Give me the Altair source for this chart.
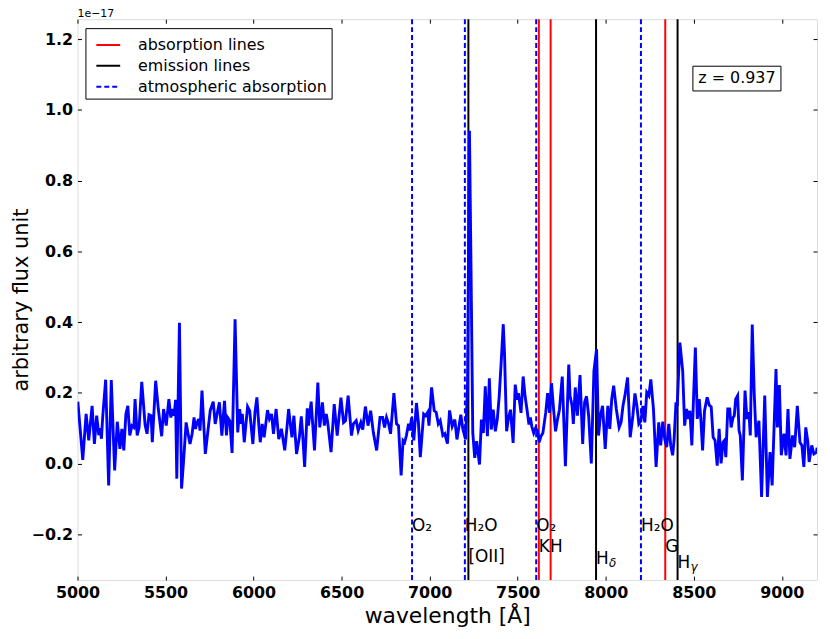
import altair as alt
import pandas as pd

# ---- spectrum (flux in units of 1e-17) ----
wavelength = [
    5002, 5030, 5049, 5064, 5083, 5096, 5109, 5121, 5128, 5136, 5143, 5160, 5177, 5192, 5211,
    5226, 5241, 5252, 5263, 5275, 5286, 5297, 5309, 5320, 5327, 5339, 5350, 5365, 5384, 5395,
    5406, 5418, 5425, 5444, 5459, 5478, 5489, 5504, 5519, 5530, 5542, 5549, 5557, 5564, 5579,
    5591, 5602, 5617, 5628, 5639, 5651, 5662, 5670, 5677, 5688, 5696, 5707, 5726, 5741, 5754,
    5771, 5782, 5806, 5820, 5835, 5846, 5853, 5865, 5878, 5895, 5910, 5921, 5929, 5936, 5947,
    5966, 5978, 5996, 6008, 6019, 6030, 6038, 6049, 6060, 6079, 6090, 6102, 6113, 6128, 6143,
    6158, 6177, 6188, 6199, 6211, 6218, 6229, 6244, 6260, 6271, 6278, 6290, 6305, 6312, 6327,
    6346, 6365, 6376, 6391, 6402, 6413, 6421, 6440, 6458, 6475, 6496, 6511, 6522, 6537, 6556,
    6567, 6583, 6594, 6609, 6620, 6635, 6650, 6665, 6680, 6699, 6718, 6733, 6744, 6755, 6767,
    6778, 6797, 6812, 6823, 6838, 6849, 6858, 6868, 6880, 6887, 6898, 6910, 6925, 6936, 6947,
    6966, 6977, 6989, 6996, 7011, 7026, 7037, 7049, 7060, 7075, 7086, 7101, 7113, 7128, 7143,
    7155, 7177, 7189, 7204, 7215, 7226, 7234, 7245, 7256, 7267, 7283, 7294, 7305, 7316, 7328,
    7339, 7350, 7361, 7373, 7384, 7395, 7407, 7418, 7425, 7437, 7448, 7459, 7474, 7486, 7497,
    7504, 7519, 7531, 7542, 7553, 7564, 7572, 7580, 7591, 7602, 7613, 7622, 7632, 7643, 7659,
    7670, 7681, 7692, 7704, 7715, 7726, 7737, 7753, 7771, 7790, 7797, 7809, 7816, 7827, 7839,
    7854, 7869, 7880, 7891, 7903, 7918, 7933, 7948, 7959, 7970, 7982, 7997, 8012, 8023, 8034,
    8045, 8060, 8076, 8087, 8098, 8109, 8124, 8139, 8154, 8166, 8177, 8188, 8200, 8211, 8222,
    8233, 8245, 8256, 8271, 8286, 8301, 8312, 8324, 8335, 8346, 8358, 8369, 8380, 8388, 8399,
    8406, 8421, 8437, 8448, 8459, 8470, 8478, 8489, 8509, 8520, 8531, 8540, 8550, 8561, 8576,
    8588, 8599, 8610, 8621, 8633, 8644, 8655, 8666, 8674, 8682, 8693, 8704, 8712, 8723, 8730,
    8738, 8749, 8757, 8764, 8776, 8791, 8802, 8813, 8821, 8832, 8843, 8854, 8870, 8885, 8903,
    8918, 8933, 8945, 8967, 8975, 8986, 8997, 9012, 9024, 9035, 9046, 9061, 9073, 9088, 9103,
    9114, 9125, 9136, 9148, 9155, 9170, 9182, 9197, 9200,
]
flux = [
    0.175, 0.010, 0.140, 0.065, 0.163, 0.055, 0.135, 0.080, 0.100, 0.070, 0.130, 0.237, -0.062, 0.236, -0.020,
    0.118, 0.041, 0.098, 0.037, 0.140, 0.163, 0.079, 0.107, 0.102, 0.182, 0.079, 0.102, 0.231, 0.109, 0.084,
    0.138, 0.135, 0.060, 0.234, 0.154, 0.077, 0.154, 0.107, 0.182, 0.130, 0.154, 0.135, 0.180, -0.043, 0.398,
    -0.071, 0.004, 0.116, 0.084, 0.055, 0.084, 0.130, 0.098, 0.112, 0.126, 0.093, 0.206, 0.027, 0.093, 0.150,
    0.175, 0.112, 0.173, 0.079, 0.177, 0.079, 0.130, 0.121, 0.030, 0.408, 0.088, 0.154, 0.112, 0.140, 0.060,
    0.161, 0.149, 0.055, 0.145, 0.187, 0.107, 0.060, 0.112, 0.074, 0.151, 0.126, 0.140, 0.084, 0.154, 0.069,
    0.098, 0.037, 0.093, 0.154, 0.102, 0.074, 0.135, 0.027, 0.074, 0.133, 0.088, -0.010, 0.156, 0.107, 0.175,
    0.037, 0.229, 0.102, 0.173, 0.107, 0.140, 0.116, 0.032, 0.168, 0.079, 0.186, 0.116, 0.121, 0.192, 0.079,
    0.112, 0.121, 0.093, 0.116, 0.096, 0.161, 0.107, 0.149, 0.088, 0.037, 0.130, 0.130, 0.102, 0.130, 0.112,
    0.084, 0.199, 0.112, 0.107, -0.034, 0.065, 0.060, 0.079, 0.112, 0.093, 0.130, 0.065, 0.171, 0.116, 0.018,
    0.140, 0.135, 0.145, 0.107, 0.215, 0.149, 0.145, 0.112, 0.121, 0.079, 0.084, 0.056, 0.150, 0.105, 0.124,
    0.068, 0.138, 0.096, 0.068, 0.218, 0.941, 0.593, 0.086, 0.016, 0.063, -0.003, 0.124, 0.086, 0.218, 0.077,
    0.241, 0.096, 0.152, 0.091, 0.124, 0.190, 0.293, 0.394, 0.312, 0.091, 0.129, 0.152, 0.058, 0.223, 0.180,
    0.199, 0.143, 0.246, 0.190, 0.152, 0.110, 0.130, 0.105, 0.086, 0.100, 0.091, 0.060, 0.077, 0.086, 0.143,
    0.199, 0.143, 0.227, 0.152, 0.091, 0.124, 0.152, 0.246, -0.008, 0.280, 0.192, 0.163, 0.112, 0.215, 0.135,
    0.250, 0.055, 0.173, 0.190, 0.135, 0.000, 0.262, 0.323, 0.079, 0.135, 0.163, 0.041, 0.163, 0.098, 0.182,
    0.220, 0.154, 0.102, 0.116, 0.163, 0.192, 0.243, 0.074, 0.135, 0.198, 0.163, 0.112, 0.121, 0.163, 0.116,
    0.201, 0.192, 0.238, 0.154, -0.010, 0.116, 0.051, 0.118, 0.069, 0.046, 0.112, 0.051, 0.023, 0.065, 0.173,
    0.163, 0.342, 0.262, 0.107, 0.154, 0.126, 0.149, 0.051, 0.328, 0.126, 0.182, 0.126, 0.037, 0.149, 0.187,
    0.165, 0.160, 0.074, 0.065, -0.006, 0.098, 0.000, 0.060, 0.065, 0.018, 0.154, 0.154, 0.102, 0.130, 0.135,
    0.182, 0.192, 0.093, 0.079, -0.048, 0.206, 0.126, 0.145, 0.079, 0.393, 0.201, 0.074, 0.121, -0.095, 0.192,
    -0.095, 0.032, -0.062, 0.267, 0.102, 0.222, 0.023, 0.084, 0.023, 0.154, 0.013, 0.079, 0.046, 0.163, 0.060,
    0.051, -0.010, 0.102, 0.060, 0.004, 0.051, 0.027, 0.032, 0.045,
]

# ---- spectral lines ----
absorption_wl = [7620, 7687, 8338]
emission_wl = [7220, 7945, 8408]
atmospheric_wl = [6900, 7200, 7605, 8200]
line_kinds = ["absorption lines", "emission lines", "atmospheric absorption"]
line_colors = ["#ff0000", "#000000", "#0000ff"]
line_dashes = [[1, 0], [1, 0], [5, 3]]

# ---- line labels ----
label_text = ["O₂", "H₂O", "[OII]", "O₂", "KH", "H", "H₂O", "G", "H"]
label_wl = [6900, 7200, 7220, 7605, 7620, 7945, 8200, 8338, 8408]
label_y = [-0.19, -0.19, -0.28, -0.19, -0.25, -0.285, -0.19, -0.25, -0.295]
sub_text = ["δ", "γ"]
sub_wl = [7945, 8408]
sub_y = [-0.285, -0.295]

# ---- redshift annotation ----
z_text = ["z = 0.937"]
z_wl = [8745]
z_y = [1.09]
z_box_wl = [8495, 8995]
z_box_y = [1.054, 1.124]

# ---- offset text ----
offset_text = ["1e−17"]
offset_wl = [5000]
offset_y = [1.257]

x_domain = [5000, 9200]
y_domain = [-0.33, 1.257]
x_ticks = [5000, 5500, 6000, 6500, 7000, 7500, 8000, 8500, 9000]
y_ticks = [-0.2, 0.0, 0.2, 0.4, 0.6, 0.8, 1.0, 1.2]

FONT = "DejaVu Sans"

spec_df = pd.DataFrame({"wl": wavelength, "flux": flux})
lines_df = pd.DataFrame(
    {"wl": absorption_wl + emission_wl + atmospheric_wl,
     "kind": [line_kinds[0]] * len(absorption_wl)
     + [line_kinds[1]] * len(emission_wl)
     + [line_kinds[2]] * len(atmospheric_wl)}
)
labels_df = pd.DataFrame({"wl": label_wl, "y": label_y, "text": label_text})
subs_df = pd.DataFrame({"wl": sub_wl, "y": sub_y, "text": sub_text})
z_df = pd.DataFrame({"wl": z_wl, "y": z_y, "text": z_text})
zbox_df = pd.DataFrame({"wl": [z_box_wl[0]], "wl2": [z_box_wl[1]],
                        "y": [z_box_y[0]], "y2": [z_box_y[1]]})
off_df = pd.DataFrame({"wl": offset_wl, "y": offset_y, "text": offset_text})

xs = alt.Scale(domain=x_domain, nice=False, zero=False)
ys = alt.Scale(domain=y_domain, nice=False, zero=False)

tick_common = dict(tickColor="black", tickSize=4, tickWidth=1, offset=-4,
                   domain=False, grid=False)

x_bottom = alt.Axis(orient="bottom", values=x_ticks, format="d", labelFont=FONT,
                    labelFontSize=16, labelFontWeight="bold", labelColor="black",
                    labelPadding=5, labelFlush=False, labelOverlap=False,
                    title="wavelength [Å]", titleFont=FONT, titleFontSize=22,
                    titleFontWeight="normal", titleColor="black", titlePadding=5,
                    **tick_common)
y_left = alt.Axis(orient="left", values=y_ticks, format=".1f", labelFont=FONT,
                  labelFontSize=16, labelFontWeight="bold", labelColor="black",
                  labelPadding=5, labelOverlap=False,
                  title="arbitrary flux unit", titleFont=FONT, titleFontSize=21,
                  titleFontWeight="normal", titleColor="black", titlePadding=0,
                  **tick_common)
x_top = alt.Axis(orient="top", values=x_ticks, labels=False, title=None, **tick_common)
y_right = alt.Axis(orient="right", values=y_ticks, labels=False, title=None, **tick_common)

spectrum = alt.Chart(spec_df).mark_line(color="#0000ff", strokeWidth=2.9, clip=True).encode(
    x=alt.X("wl:Q", scale=xs, axis=x_bottom),
    y=alt.Y("flux:Q", scale=ys, axis=y_left),
)

legend = alt.Legend(title=None, orient="none", legendX=8, legendY=9,
                    symbolType="stroke", symbolSize=576, symbolStrokeWidth=2,
                    labelFont=FONT, labelFontSize=16, labelColor="black", labelLimit=400,
                    labelOffset=17, padding=4, symbolOffset=6, rowPadding=0,
                    strokeColor="black", fillColor="white", cornerRadius=0)

rules = alt.Chart(lines_df).mark_rule(strokeWidth=2).encode(
    x=alt.X("wl:Q", scale=xs, axis=None),
    color=alt.Color("kind:N", scale=alt.Scale(domain=line_kinds, range=line_colors), legend=legend),
    strokeDash=alt.StrokeDash("kind:N", scale=alt.Scale(domain=line_kinds, range=line_dashes), legend=legend),
)

labels = alt.Chart(labels_df).mark_text(align="left", baseline="alphabetic", font=FONT,
                                         fontSize=17, color="black").encode(
    x=alt.X("wl:Q", scale=xs, axis=x_top),
    y=alt.Y("y:Q", scale=ys, axis=y_right),
    text="text:N",
)

subs = alt.Chart(subs_df).mark_text(align="left", baseline="alphabetic", font=FONT,
                                     fontSize=12, fontStyle="italic", color="black",
                                     dx=13, dy=3).encode(
    x=alt.X("wl:Q", scale=xs, axis=None),
    y=alt.Y("y:Q", scale=ys, axis=None),
    text="text:N",
)

zbox = alt.Chart(zbox_df).mark_rect(fill="white", stroke="black", strokeWidth=1).encode(
    x=alt.X("wl:Q", scale=xs, axis=None), x2="wl2:Q",
    y=alt.Y("y:Q", scale=ys, axis=None), y2="y2:Q",
)
ztext = alt.Chart(z_df).mark_text(align="center", baseline="middle", font=FONT,
                                   fontSize=16, color="black").encode(
    x=alt.X("wl:Q", scale=xs, axis=None),
    y=alt.Y("y:Q", scale=ys, axis=None),
    text="text:N",
)
offtext = alt.Chart(off_df).mark_text(align="left", baseline="alphabetic", font=FONT,
                                       fontSize=11, color="black", dy=-2).encode(
    x=alt.X("wl:Q", scale=xs, axis=None),
    y=alt.Y("y:Q", scale=ys, axis=None),
    text="text:N",
)

chart = alt.layer(rules, spectrum, labels, subs, zbox, ztext, offtext).resolve_axis(
    x="independent", y="independent"
).properties(
    width=745, height=565,
    padding={"left": 70, "top": 9, "right": 5, "bottom": 47},
    autosize=alt.AutoSizeParams(type="none"),
).configure_view(stroke="black", strokeWidth=1.5).configure(background="white")

chart.save("out.html", embed_options={"renderer": "svg", "actions": False})
